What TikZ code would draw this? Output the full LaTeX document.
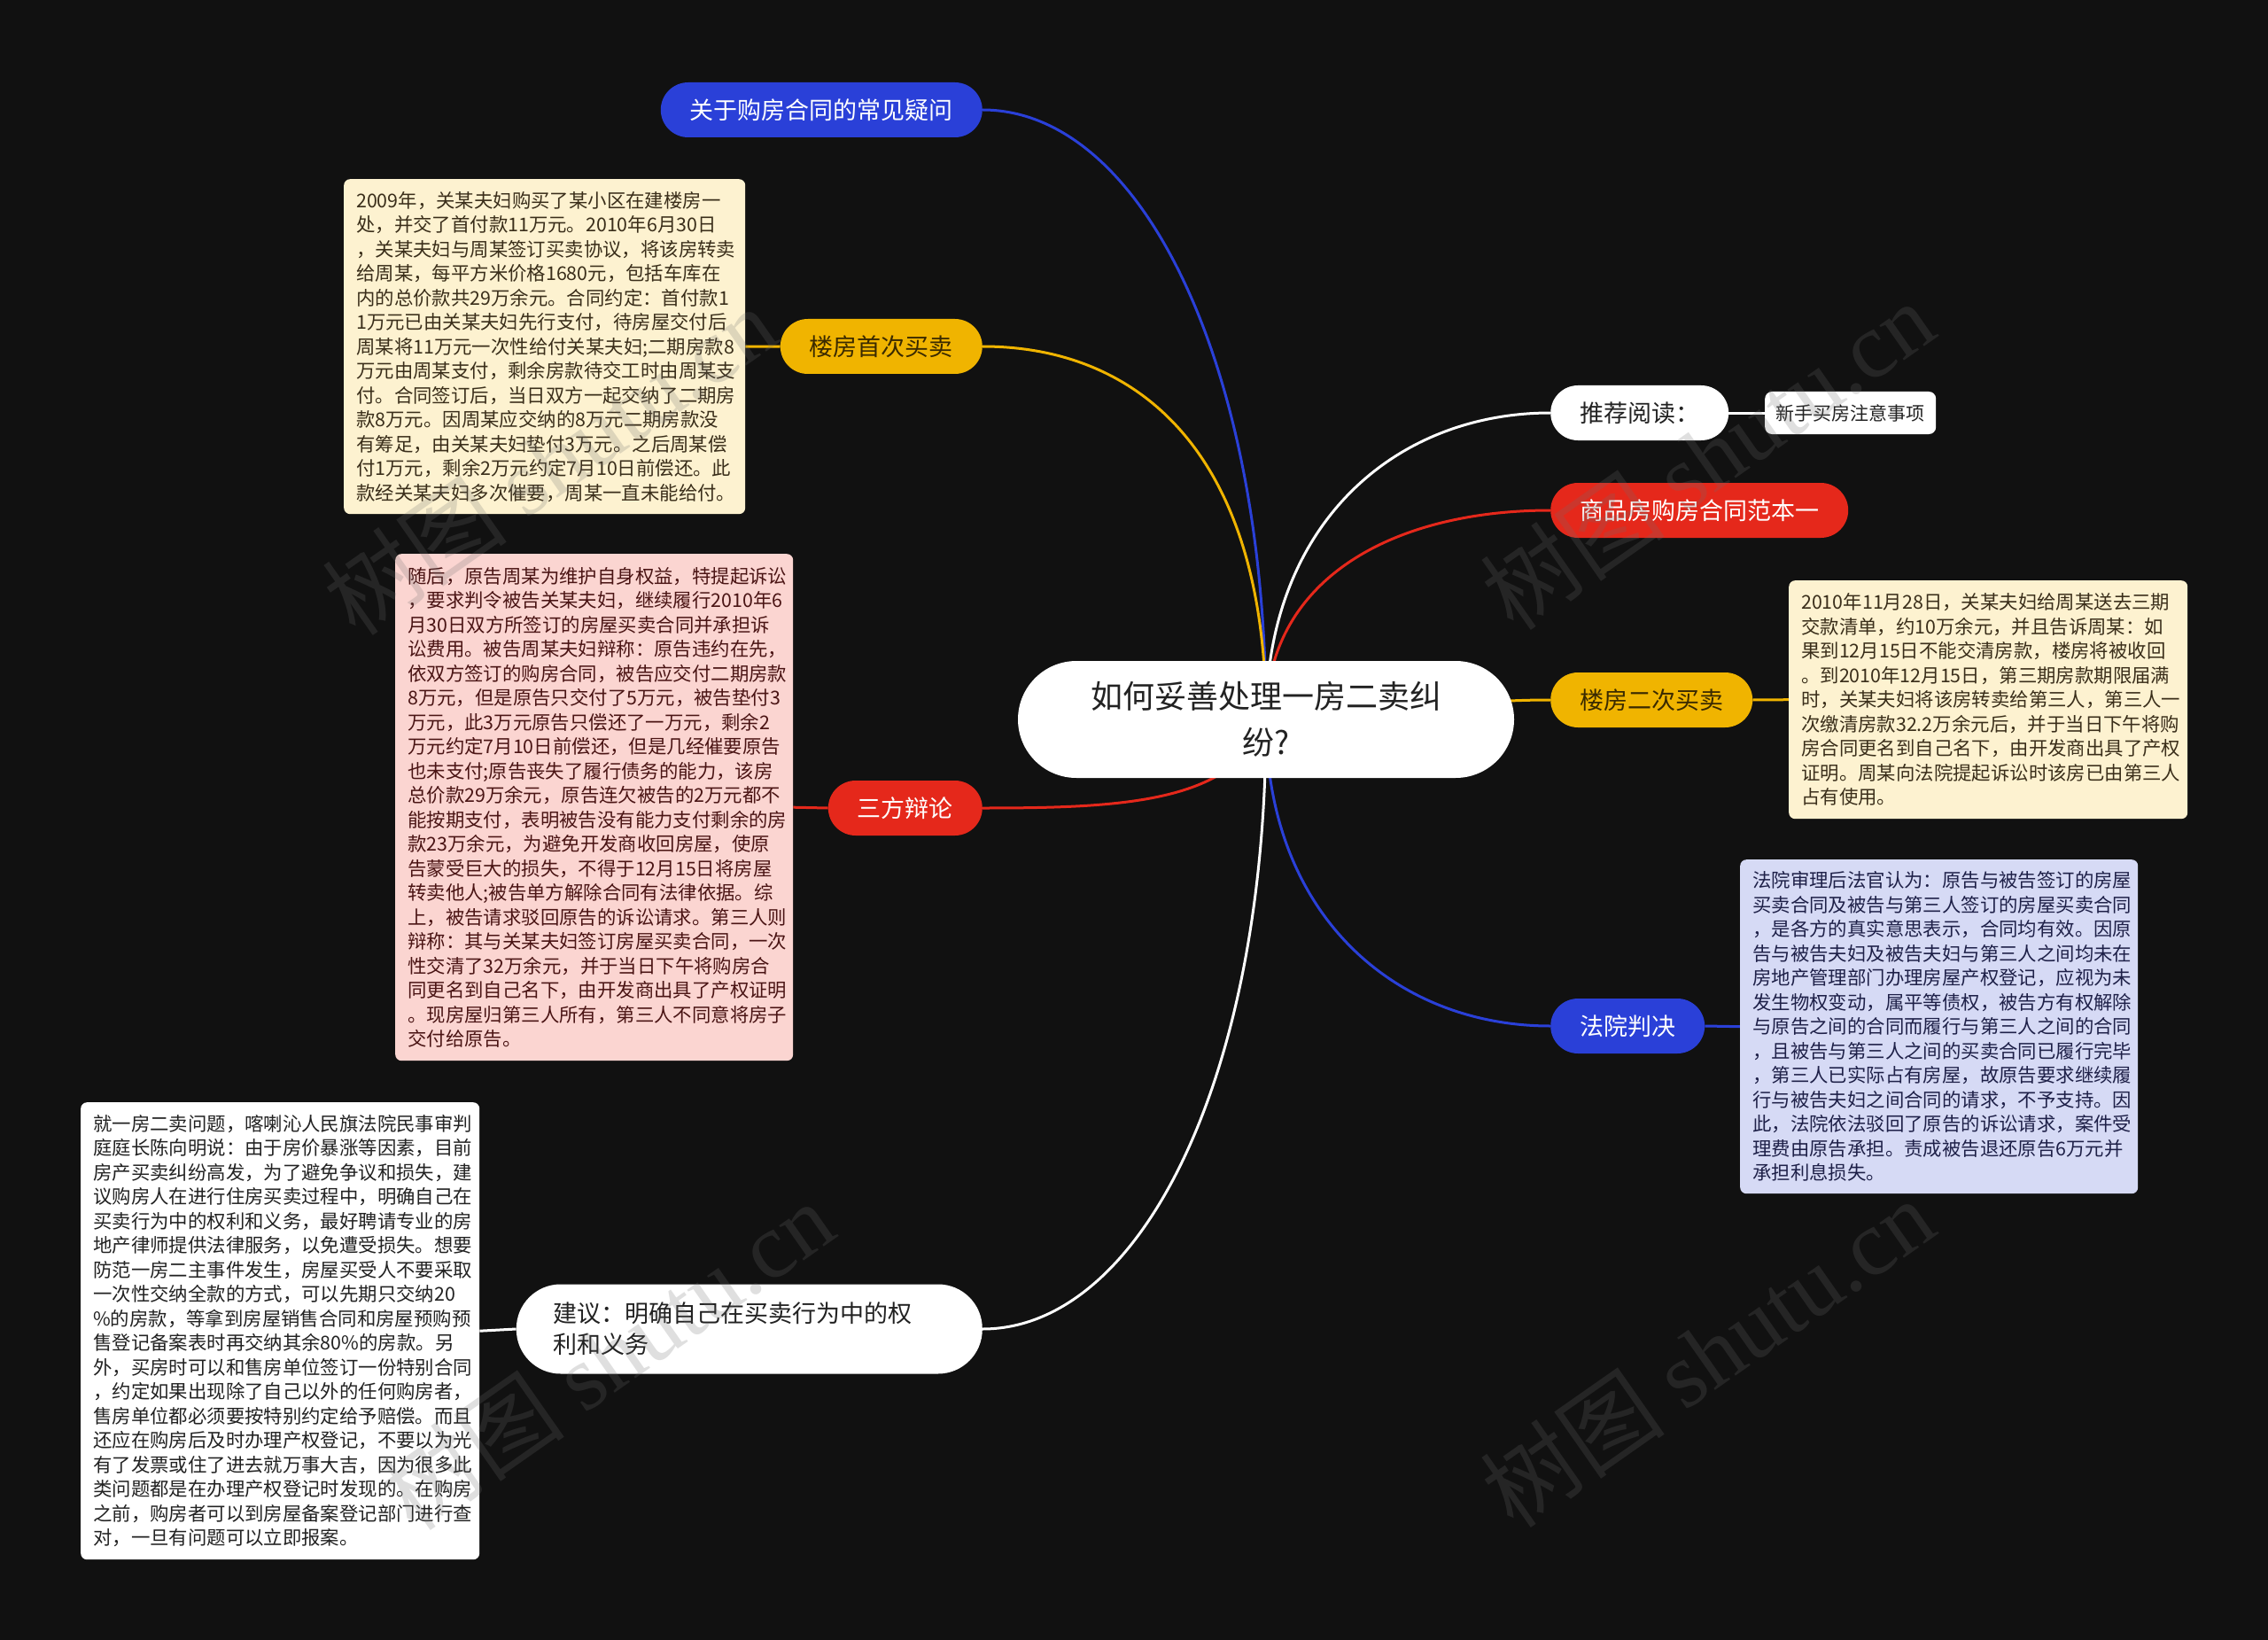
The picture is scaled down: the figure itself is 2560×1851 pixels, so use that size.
\documentclass[tikz,border=0pt]{standalone}
\usepackage{fontspec}
\setmainfont{Noto Sans CJK SC}
\newfontfamily\wmlatin{Liberation Serif}
\usetikzlibrary{backgrounds,topaths}
\definecolor{bgc}{HTML}{111111}
\definecolor{cblue}{HTML}{2A40D8}
\definecolor{cyellow}{HTML}{F0B400}
\definecolor{cred}{HTML}{E5281B}
\definecolor{cbeige}{HTML}{FDF2D0}
\definecolor{cpink}{HTML}{FBD5D1}
\definecolor{clav}{HTML}{D6DAF5}
\definecolor{tbeige}{HTML}{3A2E1A}
\definecolor{tpink}{HTML}{4A1414}
\definecolor{tlav}{HTML}{1E2048}
\definecolor{tdark}{HTML}{222222}
\definecolor{tyel}{HTML}{3A2A00}
\definecolor{wmgray}{HTML}{6E6E6E}
\begin{document}
\begin{tikzpicture}[x=1pt,y=1pt,
  pill/.style={rectangle, rounded corners=31pt, minimum height=62pt, inner xsep=33pt, inner ysep=0pt, font=\fontsize{27}{33}\selectfont},
  bluepill/.style={pill, fill=cblue, text=white},
  yellowpill/.style={pill, fill=cyellow, text=tyel},
  redpill/.style={pill, fill=cred, text=white},
  whitepill/.style={pill, fill=white, text=tdark},
  edge/.style={line width=3pt},
  box/.style={rectangle, anchor=north west, rounded corners=7pt, inner xsep=14pt, inner ysep=0pt, align=left, font=\fontsize{21.4}{27.5}\selectfont},
  wm/.style={text=wmgray, text opacity=0.22, font=\fontsize{105}{105}\selectfont, rotate=35}
]
\useasboundingbox (0,0) rectangle (2560,-1851);

% root
\node[rectangle, rounded corners=66pt, fill=white, minimum width=560pt, minimum height=132pt, align=center, text=tdark, font=\fontsize{36}{52}\selectfont] (root) at (1429,-812) {如何妥善处理一房二卖纠\\纷?};

% left pills
\node[bluepill, anchor=east] (p1) at (1109,-124) {关于购房合同的常见疑问};
\node[yellowpill, anchor=east] (p2) at (1109,-391) {楼房首次买卖};
\node[redpill, anchor=east] (p3) at (1109,-912) {三方辩论};
\node[rectangle, rounded corners=50pt, fill=white, text=tdark, anchor=east, minimum width=526pt, minimum height=101pt, inner xsep=42pt, inner ysep=0pt, text width=442pt, align=left, font=\fontsize{27}{35}\selectfont] (p4) at (1109,-1500) {建议：明确自己在买卖行为中的权\\利和义务};

% right pills
\node[whitepill, anchor=west] (p5) at (1750,-466) {推荐阅读：};
\node[redpill, anchor=west] (p6) at (1750,-576) {商品房购房合同范本一};
\node[yellowpill, anchor=west] (p7) at (1750,-790) {楼房二次买卖};
\node[bluepill, anchor=west] (p8) at (1750,-1158) {法院判决};
\node[rectangle, rounded corners=8pt, fill=white, text=tdark, anchor=west, minimum width=193pt, minimum height=48pt, inner xsep=8pt, inner ysep=0pt, font=\fontsize{21}{25}\selectfont] (s1) at (1992,-466) {新手买房注意事项};

% boxes
\node[box, fill=cbeige, text=tbeige, minimum width=453pt, minimum height=378pt, text width=425pt] (b1) at (388,-202) {2009年，关某夫妇购买了某小区在建楼房一\\处，并交了首付款11万元。2010年6月30日\\，关某夫妇与周某签订买卖协议，将该房转卖\\给周某，每平方米价格1680元，包括车库在\\内的总价款共29万余元。合同约定：首付款1\\1万元已由关某夫妇先行支付，待房屋交付后\\周某将11万元一次性给付关某夫妇;二期房款8\\万元由周某支付，剩余房款待交工时由周某支\\付。合同签订后，当日双方一起交纳了二期房\\款8万元。因周某应交纳的8万元二期房款没\\有筹足，由关某夫妇垫付3万元。之后周某偿\\付1万元，剩余2万元约定7月10日前偿还。此\\款经关某夫妇多次催要，周某一直未能给付。};

\node[box, fill=cpink, text=tpink, minimum width=449pt, minimum height=572pt, text width=421pt] (b2) at (446,-625) {随后，原告周某为维护自身权益，特提起诉讼\\，要求判令被告关某夫妇，继续履行2010年6\\月30日双方所签订的房屋买卖合同并承担诉\\讼费用。被告周某夫妇辩称：原告违约在先，\\依双方签订的购房合同，被告应交付二期房款\\8万元，但是原告只交付了5万元，被告垫付3\\万元，此3万元原告只偿还了一万元，剩余2\\万元约定7月10日前偿还，但是几经催要原告\\也未支付;原告丧失了履行债务的能力，该房\\总价款29万余元，原告连欠被告的2万元都不\\能按期支付，表明被告没有能力支付剩余的房\\款23万余元，为避免开发商收回房屋，使原\\告蒙受巨大的损失，不得于12月15日将房屋\\转卖他人;被告单方解除合同有法律依据。综\\上，被告请求驳回原告的诉讼请求。第三人则\\辩称：其与关某夫妇签订房屋买卖合同，一次\\性交清了32万余元，并于当日下午将购房合\\同更名到自己名下，由开发商出具了产权证明\\。现房屋归第三人所有，第三人不同意将房子\\交付给原告。};

\node[box, fill=white, text=tdark, minimum width=450pt, minimum height=516pt, text width=422pt] (b3) at (91,-1244) {就一房二卖问题，喀喇沁人民旗法院民事审判\\庭庭长陈向明说：由于房价暴涨等因素，目前\\房产买卖纠纷高发，为了避免争议和损失，建\\议购房人在进行住房买卖过程中，明确自己在\\买卖行为中的权利和义务，最好聘请专业的房\\地产律师提供法律服务，以免遭受损失。想要\\防范一房二主事件发生，房屋买受人不要采取\\一次性交纳全款的方式，可以先期只交纳20\\\%的房款，等拿到房屋销售合同和房屋预购预\\售登记备案表时再交纳其余80\%的房款。另\\外，买房时可以和售房单位签订一份特别合同\\，约定如果出现除了自己以外的任何购房者，\\售房单位都必须要按特别约定给予赔偿。而且\\还应在购房后及时办理产权登记，不要以为光\\有了发票或住了进去就万事大吉，因为很多此\\类问题都是在办理产权登记时发现的。在购房\\之前，购房者可以到房屋备案登记部门进行查\\对，一旦有问题可以立即报案。};

\node[box, fill=cbeige, text=tbeige, minimum width=450pt, minimum height=269pt, text width=422pt] (b4) at (2019,-655) {2010年11月28日，关某夫妇给周某送去三期\\交款清单，约10万余元，并且告诉周某：如\\果到12月15日不能交清房款，楼房将被收回\\。到2010年12月15日，第三期房款期限届满\\时，关某夫妇将该房转卖给第三人，第三人一\\次缴清房款32.2万余元后，并于当日下午将购\\房合同更名到自己名下，由开发商出具了产权\\证明。周某向法院提起诉讼时该房已由第三人\\占有使用。};

\node[box, fill=clav, text=tlav, minimum width=449pt, minimum height=377pt, text width=421pt] (b5) at (1964,-970) {法院审理后法官认为：原告与被告签订的房屋\\买卖合同及被告与第三人签订的房屋买卖合同\\，是各方的真实意思表示，合同均有效。因原\\告与被告夫妇及被告夫妇与第三人之间均未在\\房地产管理部门办理房屋产权登记，应视为未\\发生物权变动，属平等债权，被告方有权解除\\与原告之间的合同而履行与第三人之间的合同\\，且被告与第三人之间的买卖合同已履行完毕\\，第三人已实际占有房屋，故原告要求继续履\\行与被告夫妇之间合同的请求，不予支持。因\\此，法院依法驳回了原告的诉讼请求，案件受\\理费由原告承担。责成被告退还原告6万元并\\承担利息损失。};

% connectors
\begin{scope}[on background layer]
\fill[bgc] (0,0) rectangle (2560,-1851);
\draw[edge, cblue] (root.center) to[out=90,in=0,out distance=400pt,in distance=180pt] (p1.east);
\draw[edge, cyellow] (root.center) to[out=90,in=0,out distance=300pt,in distance=177pt] (p2.east);
\draw[edge, white] (root.center) to[out=90,in=180,out distance=220pt,in distance=176pt] (p5.west);
\draw[edge, cred] (root.center) to[out=90,in=180,out distance=160pt,in distance=176pt] (p6.west);
\draw[edge, cyellow] (root.center) to[out=0,in=180] (p7.west);
\draw[edge, white] (root.center) to[out=-90,in=0,out distance=408pt,in distance=177pt] (p4.east);
\draw[edge, cblue] (root.center) to[out=-90,in=180,out distance=220pt,in distance=176pt] (p8.west);
\draw[edge, cred] (root.center) to[out=-110,in=0,out distance=100pt,in distance=160pt] (p3.east);
\draw[edge, cyellow] (b1.east) -- (p2.west);
\draw[edge, cred] (b2.east) -- (p3.west);
\draw[edge, white] (b3.east) -- (p4.west);
\draw[edge, white] (p5.east) -- (s1.west);
\draw[edge, cyellow] (p7.east) -- (b4.west);
\draw[edge, cblue] (p8.east) -- (b5.west);
\end{scope}

% watermarks
\node[wm] (w1) at (620,-520) {树图 {\wmlatin shutu.cn}};
\node[wm] (w2) at (1927,-514) {树图 {\wmlatin shutu.cn}};
\node[wm] (w3) at (685,-1530) {树图 {\wmlatin shutu.cn}};
\node[wm] (w4) at (1927,-1527) {树图 {\wmlatin shutu.cn}};
\end{tikzpicture}
\end{document}
